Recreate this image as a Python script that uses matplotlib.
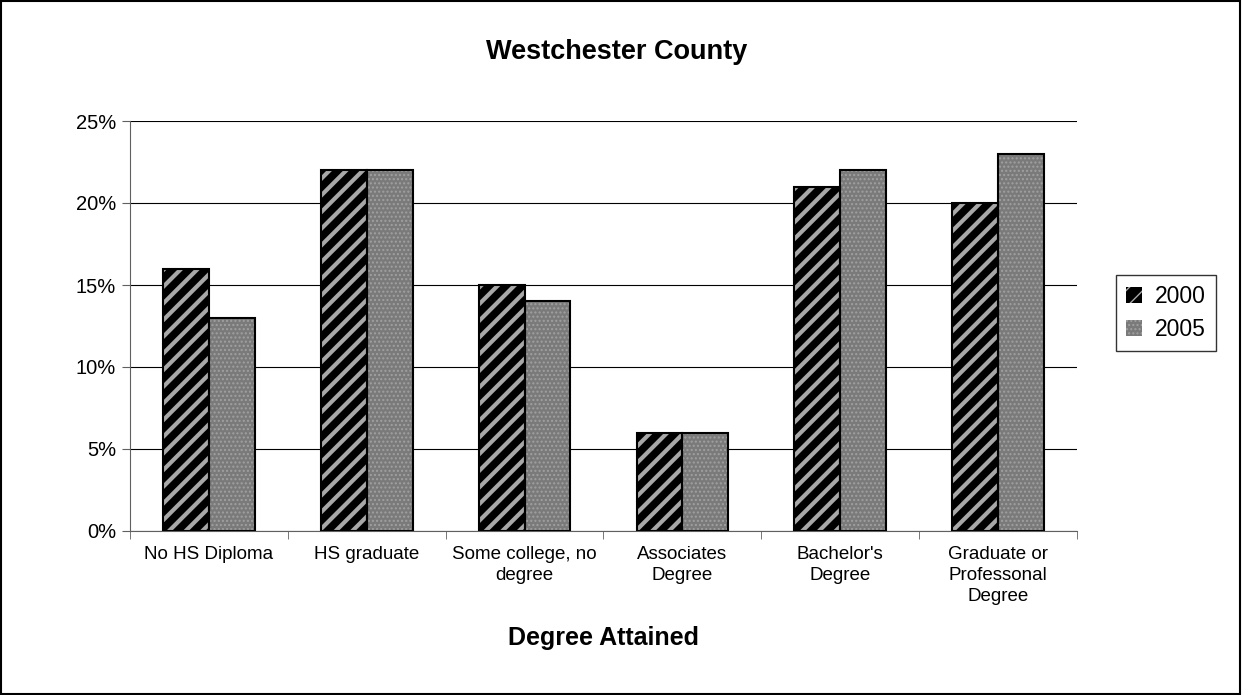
import matplotlib
matplotlib.use("Agg")
import matplotlib.pyplot as plt
import numpy as np
from matplotlib.patches import Patch, Rectangle

categories = ["No HS Diploma", "HS graduate", "Some college, no\ndegree",
              "Associates\nDegree", "Bachelor's\nDegree", "Graduate or\nProfessonal\nDegree"]
vals_2000 = [16, 22, 15, 6, 21, 20]
vals_2005 = [13, 22, 14, 6, 22, 23]
series_names = ["2000", "2005"]
yticks = [0, 5, 10, 15, 20, 25]

plt.rcParams['font.family'] = ['Liberation Sans', 'DejaVu Sans']
plt.rcParams['hatch.linewidth'] = 3.0

fig = plt.figure(figsize=(12.42, 6.95), dpi=100)
ax = fig.add_axes([130/1242, 1 - 531/695, 947/1242, 410/695])

x = np.arange(len(categories))
w = 0.29

# 2000: black with gray diagonal stripes
ax.bar(x - w/2, vals_2000, w, color='black', edgecolor='#a8a8a8', hatch='//', linewidth=0, zorder=3)
ax.bar(x - w/2, vals_2000, w, fill=False, edgecolor='black', linewidth=1.5, zorder=4)
# 2005: gray dotted
plt.rcParams['hatch.linewidth'] = 1.0
ax.bar(x + w/2, vals_2005, w, color='#7a7a7a', edgecolor='#a0a0a0', hatch='....', linewidth=0, zorder=3)
ax.bar(x + w/2, vals_2005, w, fill=False, edgecolor='black', linewidth=1.5, zorder=4)

ax.set_xlim(-0.5, len(categories) - 0.5)
ax.set_ylim(0, 25)
ax.set_yticks(yticks)
ax.set_yticklabels([f"{v}%" for v in yticks], fontsize=14.5)
ax.yaxis.grid(True, color='black', linewidth=0.8, zorder=0)
ax.set_axisbelow(True)

ax.set_xticks(x)
ax.set_xticklabels(categories, fontsize=13.5, va='top', linespacing=1.3)
ax.tick_params(axis='x', length=0, pad=11)
ax.set_xticks(np.arange(len(categories) + 1) - 0.5, minor=True)
ax.tick_params(axis='x', which='minor', length=6, color='#606060', direction='out')
ax.tick_params(axis='y', length=6, color='#606060', direction='out', pad=4)

for s in ['top', 'right']:
    ax.spines[s].set_visible(False)
ax.spines['left'].set_color('#606060')
ax.spines['bottom'].set_color('#606060')

fig.text(617/1242, 1 - 52/695, "Westchester County", fontsize=19.5, fontweight='bold', ha='center', va='center')
fig.text(603/1242, 1 - 638/695, "Degree Attained", fontsize=18, fontweight='bold', ha='center', va='center')

handles = [Patch(facecolor='black', edgecolor='#a8a8a8', hatch='//', linewidth=0),
           Patch(facecolor='#7a7a7a', edgecolor='#a0a0a0', hatch='....', linewidth=0)]
leg = fig.legend(handles, series_names, loc='center left', bbox_to_anchor=(1116/1242, 1 - 313/695),
                 fontsize=16.5, frameon=True, fancybox=False, edgecolor='black',
                 handlelength=0.7, handleheight=0.7, handletextpad=0.55, borderpad=0.45,
                 labelspacing=0.45, borderaxespad=0)
leg.get_frame().set_linewidth(1.0)

fig.patches.append(Rectangle((0.001, 0.001), 0.997, 0.997, transform=fig.transFigure,
                             fill=False, edgecolor='black', linewidth=1.5))

fig.savefig("out.png", dpi=100)
